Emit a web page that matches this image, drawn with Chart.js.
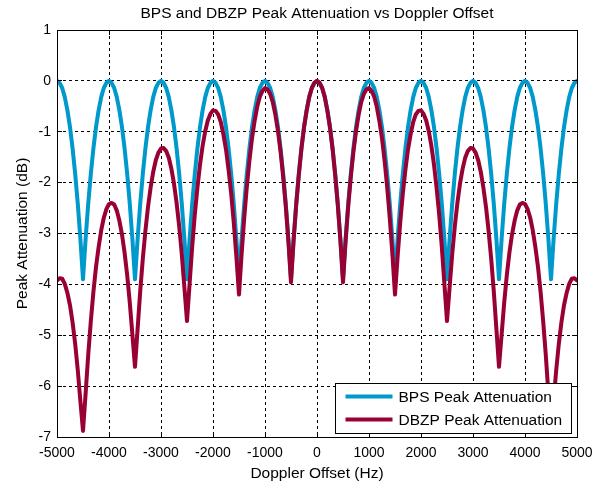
<!DOCTYPE html>
<html>
<head>
<meta charset="utf-8">
<script src="https://cdn.jsdelivr.net/npm/chart.js@4.4.0/dist/chart.umd.min.js"></script>
<style>
body { margin: 0; background: #fff; }
#wrap { width: 593px; height: 489px; }
</style>
</head>
<body>
<div id="wrap"><canvas id="myChart" width="593" height="489"></canvas></div>
<script>
// doppler offset (Hz)
const freqs = [
-5000,-4950,-4900,-4850,-4800,-4750,-4700,-4650,-4600,-4550,
-4500,-4450,-4400,-4350,-4300,-4250,-4200,-4150,-4100,-4050,
-4000,-3950,-3900,-3850,-3800,-3750,-3700,-3650,-3600,-3550,
-3500,-3450,-3400,-3350,-3300,-3250,-3200,-3150,-3100,-3050,
-3000,-2950,-2900,-2850,-2800,-2750,-2700,-2650,-2600,-2550,
-2500,-2450,-2400,-2350,-2300,-2250,-2200,-2150,-2100,-2050,
-2000,-1950,-1900,-1850,-1800,-1750,-1700,-1650,-1600,-1550,
-1500,-1450,-1400,-1350,-1300,-1250,-1200,-1150,-1100,-1050,
-1000,-950,-900,-850,-800,-750,-700,-650,-600,-550,
-500,-450,-400,-350,-300,-250,-200,-150,-100,-50,
0,
50,100,150,200,250,300,350,400,450,500,
550,600,650,700,750,800,850,900,950,1000,
1050,1100,1150,1200,1250,1300,1350,1400,1450,1500,
1550,1600,1650,1700,1750,1800,1850,1900,1950,2000,
2050,2100,2150,2200,2250,2300,2350,2400,2450,2500,
2550,2600,2650,2700,2750,2800,2850,2900,2950,3000,
3050,3100,3150,3200,3250,3300,3350,3400,3450,3500,
3550,3600,3650,3700,3750,3800,3850,3900,3950,4000,
4050,4100,4150,4200,4250,4300,4350,4400,4450,4500,
4550,4600,4650,4700,4750,4800,4850,4900,4950,5000
];

// BPS peak attenuation (dB)
const bpsAtt = [
0,-0.04,-0.14,-0.32,-0.58,-0.91,-1.33,-1.83,-2.42,-3.11,
-3.9,-3.11,-2.42,-1.83,-1.33,-0.91,-0.58,-0.32,-0.14,-0.04,
0,-0.04,-0.14,-0.32,-0.58,-0.91,-1.33,-1.83,-2.42,-3.11,
-3.9,-3.11,-2.42,-1.83,-1.33,-0.91,-0.58,-0.32,-0.14,-0.04,
0,-0.04,-0.14,-0.32,-0.58,-0.91,-1.33,-1.83,-2.42,-3.11,
-3.9,-3.11,-2.42,-1.83,-1.33,-0.91,-0.58,-0.32,-0.14,-0.04,
0,-0.04,-0.14,-0.32,-0.58,-0.91,-1.33,-1.83,-2.42,-3.11,
-3.9,-3.11,-2.42,-1.83,-1.33,-0.91,-0.58,-0.32,-0.14,-0.04,
0,-0.04,-0.14,-0.32,-0.58,-0.91,-1.33,-1.83,-2.42,-3.11,
-3.9,-3.11,-2.42,-1.83,-1.33,-0.91,-0.58,-0.32,-0.14,-0.04,
0,-0.04,-0.14,-0.32,-0.58,-0.91,-1.33,-1.83,-2.42,-3.11,
-3.9,-3.11,-2.42,-1.83,-1.33,-0.91,-0.58,-0.32,-0.14,-0.04,
0,-0.04,-0.14,-0.32,-0.58,-0.91,-1.33,-1.83,-2.42,-3.11,
-3.9,-3.11,-2.42,-1.83,-1.33,-0.91,-0.58,-0.32,-0.14,-0.04,
0,-0.04,-0.14,-0.32,-0.58,-0.91,-1.33,-1.83,-2.42,-3.11,
-3.9,-3.11,-2.42,-1.83,-1.33,-0.91,-0.58,-0.32,-0.14,-0.04,
0,-0.04,-0.14,-0.32,-0.58,-0.91,-1.33,-1.83,-2.42,-3.11,
-3.9,-3.11,-2.42,-1.83,-1.33,-0.91,-0.58,-0.32,-0.14,-0.04,
0,-0.04,-0.14,-0.32,-0.58,-0.91,-1.33,-1.83,-2.42,-3.11,
-3.9,-3.11,-2.42,-1.83,-1.33,-0.91,-0.58,-0.32,-0.14,-0.04,
0
];

// DBZP peak attenuation (dB)
const dbzpAtt = [
-3.92,-3.88,-3.89,-3.99,-4.17,-4.41,-4.75,-5.17,-5.69,-6.30,
-6.88,-6.15,-5.39,-4.73,-4.15,-3.66,-3.27,-2.94,-2.69,-2.52,
-2.42,-2.40,-2.43,-2.55,-2.75,-3.02,-3.38,-3.82,-4.36,-4.99,
-5.62,-4.88,-4.14,-3.50,-2.95,-2.48,-2.10,-1.79,-1.56,-1.41,
-1.33,-1.32,-1.38,-1.51,-1.73,-2.02,-2.40,-2.86,-3.41,-4.06,
-4.72,-3.99,-3.26,-2.63,-2.10,-1.65,-1.28,-0.99,-0.78,-0.65,
-0.58,-0.59,-0.66,-0.81,-1.05,-1.35,-1.75,-2.22,-2.79,-3.46,
-4.20,-3.41,-2.70,-2.09,-1.57,-1.13,-0.79,-0.51,-0.31,-0.20,
-0.14,-0.17,-0.26,-0.42,-0.67,-0.99,-1.40,-1.89,-2.47,-3.15,
-3.96,-3.14,-2.44,-1.85,-1.34,-0.92,-0.59,-0.32,-0.14,-0.04,
0,
-0.04,-0.14,-0.32,-0.59,-0.92,-1.34,-1.85,-2.44,-3.14,-3.96,
-3.15,-2.47,-1.89,-1.40,-0.99,-0.67,-0.42,-0.26,-0.17,-0.14,
-0.20,-0.31,-0.51,-0.79,-1.13,-1.57,-2.09,-2.70,-3.41,-4.20,
-3.46,-2.79,-2.22,-1.75,-1.35,-1.05,-0.81,-0.66,-0.59,-0.58,
-0.65,-0.78,-0.99,-1.28,-1.65,-2.10,-2.63,-3.26,-3.99,-4.72,
-4.06,-3.41,-2.86,-2.40,-2.02,-1.73,-1.51,-1.38,-1.32,-1.33,
-1.41,-1.56,-1.79,-2.10,-2.48,-2.95,-3.50,-4.14,-4.88,-5.62,
-4.99,-4.36,-3.82,-3.38,-3.02,-2.75,-2.55,-2.43,-2.40,-2.42,
-2.52,-2.69,-2.94,-3.27,-3.66,-4.15,-4.73,-5.39,-6.15,-6.88,
-6.30,-5.69,-5.17,-4.75,-4.41,-4.17,-3.99,-3.89,-3.88,-3.92
];

const seriesNames = ['BPS Peak Attenuation', 'DBZP Peak Attenuation'];
const seriesColors = ['#0099cc', '#990033'];
const chartTitle = 'BPS and DBZP Peak Attenuation vs Doppler Offset';

const FONT = '"Liberation Sans", Arial, sans-serif';
Chart.defaults.font.family = FONT;
Chart.defaults.color = '#000';

// Matlab style box, inner ticks, title and legend
const matlabFrame = {
    id: 'matlabFrame',
    afterDraw(chart) {
        const ctx = chart.ctx;
        const a = chart.chartArea;
        const sx = chart.scales.x, sy = chart.scales.y;
        const al = p => Math.round(p - 0.5) + 0.5;
        ctx.save();
        ctx.setLineDash([]);
        ctx.strokeStyle = '#000';
        ctx.lineWidth = 1;
        ctx.beginPath();
        sx.ticks.forEach(t => {
            const px = al(sx.getPixelForValue(t.value));
            ctx.moveTo(px, a.bottom); ctx.lineTo(px, a.bottom - 5);
            ctx.moveTo(px, a.top); ctx.lineTo(px, a.top + 5);
        });
        sy.ticks.forEach(t => {
            const py = al(sy.getPixelForValue(t.value));
            ctx.moveTo(a.left, py); ctx.lineTo(a.left + 5, py);
            ctx.moveTo(a.right, py); ctx.lineTo(a.right - 5, py);
        });
        ctx.stroke();
        ctx.strokeRect(al(a.left), al(a.top), Math.round(a.right - a.left), Math.round(a.bottom - a.top));

        // title
        ctx.fillStyle = '#000';
        ctx.font = '15.5px ' + FONT;
        ctx.textAlign = 'center';
        ctx.textBaseline = 'middle';
        ctx.fillText(chartTitle, (a.left + a.right) / 2, 14);

        // legend
        const w = 236, h = 50;
        const lx = Math.round(a.right - 6 - w) + 0.5;
        const ly = Math.round(a.bottom - 4 - h) + 0.5;
        ctx.fillStyle = '#fff';
        ctx.fillRect(lx, ly, w, h);
        ctx.strokeRect(lx, ly, w, h);
        ctx.textAlign = 'left';
        chart.data.datasets.forEach((ds, i) => {
            const yy = ly + 13 + i * 23;
            ctx.strokeStyle = ds.borderColor;
            ctx.lineWidth = 4;
            ctx.beginPath();
            ctx.moveTo(lx + 10, yy);
            ctx.lineTo(lx + 57, yy);
            ctx.stroke();
            ctx.fillStyle = '#000';
            ctx.fillText(ds.label, lx + 63, yy + 1);
        });
        ctx.restore();
    }
};

new Chart('myChart', {
    type: 'line',
    data: {
        datasets: [
            {
                label: seriesNames[0],
                data: freqs.map((f, i) => ({x: f, y: bpsAtt[i]})),
                borderColor: seriesColors[0],
                borderWidth: 4,
                order: 1
            },
            {
                label: seriesNames[1],
                data: freqs.map((f, i) => ({x: f, y: dbzpAtt[i]})),
                borderColor: seriesColors[1],
                borderWidth: 4,
                order: 0
            }
        ]
    },
    options: {
        responsive: false,
        animation: false,
        layout: { padding: { top: 30, right: 16, bottom: 0, left: 0 } },
        elements: {
            point: { radius: 0 },
            line: { tension: 0, borderJoinStyle: 'round', borderCapStyle: 'round', fill: false }
        },
        plugins: {
            legend: { display: false },
            title: { display: false },
            tooltip: { enabled: false }
        },
        scales: {
            x: {
                type: 'linear',
                min: -5000,
                max: 5000,
                ticks: {
                    stepSize: 1000,
                    font: { size: 14 },
                    padding: 8,
                    maxRotation: 0,
                    callback: v => String(v)
                },
                grid: { color: '#000', lineWidth: 1, drawTicks: false },
                border: { display: false, dash: [3, 3] },
                title: {
                    display: true,
                    text: 'Doppler Offset (Hz)',
                    font: { size: 15.5 },
                    padding: { top: 0, bottom: 6 }
                },
                afterFit: s => {
                    s.height = 52;
                    s.paddingLeft = 0;
                    s.paddingRight = 0;
                }
            },
            y: {
                min: -7,
                max: 1,
                ticks: {
                    stepSize: 1,
                    font: { size: 14 },
                    padding: 6,
                    callback: v => String(v)
                },
                grid: { color: '#000', lineWidth: 1, drawTicks: false },
                border: { display: false, dash: [3, 3] },
                title: {
                    display: true,
                    text: 'Peak Attenuation (dB)',
                    font: { size: 15.5 },
                    padding: { top: 13, bottom: 0 }
                },
                afterFit: s => {
                    s.width = 57;
                    s.paddingTop = 0;
                    s.paddingBottom = 0;
                }
            }
        }
    },
    plugins: [matlabFrame]
});
</script>
</body>
</html>
